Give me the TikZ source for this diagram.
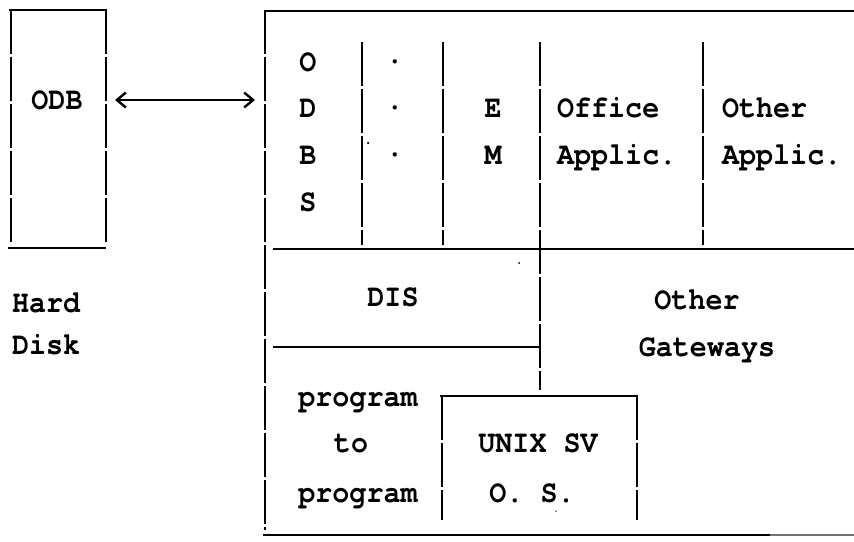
\documentclass[tikz,border=0pt]{standalone}
\usepackage{fontspec}
\setmonofont{texgyrecursor}[Extension=.otf, UprightFont=*-regular, BoldFont=*-bold,
  Ligatures=NoCommon, FakeStretch=0.9]
\usetikzlibrary{arrows.meta}
\begin{document}
\begin{tikzpicture}[x=1pt, y=-1pt,
  hl/.style={line width=2.6pt},
  vl/.style={line width=2.2pt, dash pattern=on 44pt off 3pt},
  lbl/.style={font=\ttfamily\bfseries\fontsize{31.5}{31.5}\selectfont, inner sep=0pt, anchor=base},
  lbll/.style={lbl, anchor=base west},
  speck/.style={fill, circle, inner sep=0pt, minimum size=2.5pt}]
\useasboundingbox (0,0) rectangle (854,541);

% ---- hard disk box ----
\draw[hl] (9,10) -- (107,10);
\draw[vl] (11,10) -- (11,245);
\draw[vl] (106,10) -- (106,245);
\draw[hl] (8,248) -- (106,248);
\node[lbl] (odb) at (57,109) {ODB};
\node[lbll] (hard) at (12,312) {Hard};
\node[lbll] (disk) at (12,354) {Disk};

% ---- arrow between disk and the system ----
\coordinate (arrL) at (115,100);
\coordinate (arrR) at (255,100);
\draw[line width=2.4pt, {Straight Barb[length=9pt,width=15pt,line width=2.4pt]}-{Straight Barb[length=9pt,width=15pt,line width=2.4pt]}] (arrL) -- (arrR);

% ---- system frame ----
\draw[vl] (265,10) -- (265,530);
\draw[hl] (264,11) -- (854,11);
\draw[hl] (263,535) -- (770,535);
\draw[hl, black!55] (770,535) -- (854,535);

% ---- application row ----
\draw[vl] (362,42) -- (362,245);
\draw[vl] (443,42) -- (443,245);
\draw[vl] (540,42) -- (540,390);
\draw[vl] (703,42) -- (703,245);
\draw[hl] (273,249) -- (854,249);

\node[lbl] (o1) at (308,71) {O};
\node[lbl] (d1) at (308,117) {D};
\node[lbl] (b1) at (308,164) {B};
\node[lbl] (s1) at (308,211) {S};
\node[lbl, anchor=center] (dot1) at (395,62) {.};
\node[lbl, anchor=center] (dot2) at (395,108) {.};
\node[lbl, anchor=center] (dot3) at (395,155) {.};
\node[lbl] (e1) at (493,117) {E};
\node[lbl] (m1) at (493,164) {M};
\node[lbll] (office) at (557,117) {Office};
\node[lbll] (applic1) at (557,164) {Applic.};
\node[lbll] (other1) at (722,117) {Other};
\node[lbll] (applic2) at (722,164) {Applic.};

% ---- middle layer ----
\draw[hl] (273,347) -- (540,347);
\node[lbl] (dis) at (393,306) {DIS};
\node[lbl] (other2) at (697,309) {Other};
\node[lbl] (gateways) at (707,356) {Gateways};

% ---- bottom layer ----
\draw[hl] (440,396) -- (638,396);
\draw[vl] (442,396) -- (442,520);
\draw[vl] (637,396) -- (637,520);
\node[lbl] (prog1) at (358,406) {program};
\node[lbl] (to) at (351,452) {to};
\node[lbl] (prog2) at (358,502) {program};
\node[lbl] (unix) at (538,452) {UNIX SV};
\node[lbl] (os) at (532,502) {O. S.};

% ---- small specks ----
\node[speck] (sp1) at (368,143) {};
\node[speck, minimum size=2pt] (sp2) at (519,263) {};
\node[speck, minimum size=1.5pt] (sp3) at (556,511) {};
\end{tikzpicture}
\end{document}
